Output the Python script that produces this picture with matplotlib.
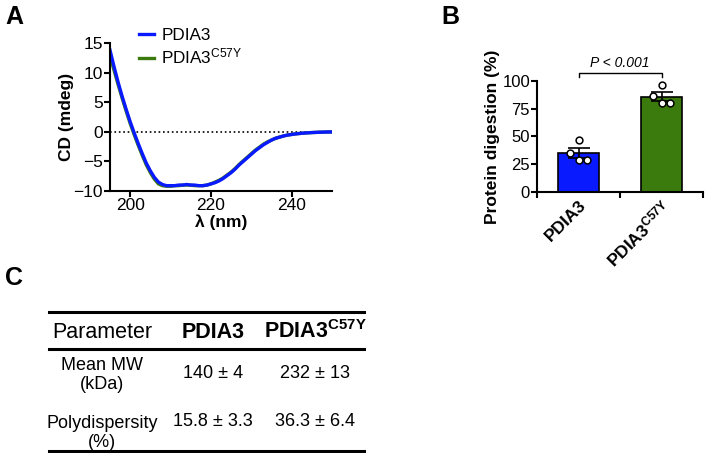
import numpy as np
import matplotlib.pyplot as plt

plt.rcParams['font.family'] = ['Liberation Sans', 'DejaVu Sans']
plt.rcParams['mathtext.fontset'] = 'custom'
plt.rcParams['mathtext.rm'] = 'Liberation Sans'
plt.rcParams['mathtext.it'] = 'Liberation Sans:italic'
plt.rcParams['mathtext.bf'] = 'Liberation Sans:bold'

# --- datos panel A: espectro CD ---
wl = np.arange(195, 251)
cd_wt = [13.8, 11.0, 8.4, 6.0, 3.8, 1.7, -0.2, -2.0, -3.7, -5.3,
         -6.6, -7.7, -8.5, -8.9, -9.1, -9.1, -9.1, -9.0, -9.0, -8.9,
         -9.0, -9.0, -9.1, -9.1, -9.0, -8.8, -8.6, -8.3, -7.9, -7.4,
         -6.9, -6.3, -5.6, -5.0, -4.4, -3.8, -3.2, -2.7, -2.2, -1.8,
         -1.4, -1.1, -0.9, -0.7, -0.55, -0.45, -0.35, -0.28, -0.22, -0.17,
         -0.13, -0.1, -0.07, -0.05, -0.03, -0.02]
cd_mut = [12.8, 10.4, 8.0, 5.7, 3.5, 1.4, -0.5, -2.3, -4.0, -5.6,
          -6.9, -8.0, -8.8, -9.1, -9.2, -9.2, -9.1, -9.1, -9.0, -9.0,
          -9.0, -9.1, -9.1, -9.1, -9.0, -8.8, -8.5, -8.2, -7.8, -7.3,
          -6.8, -6.2, -5.5, -4.9, -4.3, -3.7, -3.1, -2.6, -2.1, -1.7,
          -1.4, -1.1, -0.9, -0.7, -0.55, -0.45, -0.35, -0.28, -0.22, -0.17,
          -0.13, -0.1, -0.07, -0.05, -0.03, -0.02]

# --- datos panel B: digestion ---
grupos = ['PDIA3', r'PDIA3$^{\mathbf{C57Y}}$']
dig_mean = [34.9, 85.9]
dig_sem = [4.3, 3.9]
dig_puntos = [[47.0, 35.4, 28.5, 28.5], [96.7, 86.5, 80.2, 80.2]]
p_texto = 'P < 0.001'

# --- datos panel C: tabla ---
col_header = ['Parameter', 'PDIA3', r'PDIA3$^{\mathbf{C57Y}}$']
filas = ['Mean MW\n(kDa)', 'Polydispersity\n(%)']
val_wt = ['140 ± 4', '15.8 ± 3.3']
val_mut = ['232 ± 13', '36.3 ± 6.4']

azul = '#0a1aff'
verde = '#3b7a0c'

W, H = 709, 453
fig = plt.figure(figsize=(W / 100, H / 100), dpi=100)

def caja(x0, y0, x1, y1):
    # pixeles (arriba-izquierda) a fraccion de figura
    return [x0 / W, 1 - y1 / H, (x1 - x0) / W, (y1 - y0) / H]

#%% Panel A
ax = fig.add_axes(caja(110, 43, 332, 191))
ax.plot(wl, cd_mut, color=verde, lw=2.4, label=grupos[1].replace(r'\mathbf', r'\mathregular'))
ax.plot(wl, cd_wt, color=azul, lw=2.4, label='PDIA3')
ax.axhline(0, color='black', ls=':', lw=1.2, zorder=0)
ax.set_xlim(195, 250)
ax.set_ylim(-10, 15)
ax.set_xticks([200, 220, 240])
ax.set_yticks([-10, -5, 0, 5, 10, 15])
ax.set_xlabel('λ (nm)', fontsize=12.5, fontweight='bold', labelpad=1)
ax.set_ylabel('CD (mdeg)', fontsize=12.5, fontweight='bold', labelpad=0)
for s in ['top', 'right']:
    ax.spines[s].set_visible(False)
for s in ['left', 'bottom']:
    ax.spines[s].set_linewidth(1.5)
ax.tick_params(labelsize=12.5, width=1.5, length=4, pad=1)
h, l = ax.get_legend_handles_labels()
ax.legend(h[::-1], l[::-1], loc='upper left', bbox_to_anchor=(0.1, 1.15), frameon=False,
          fontsize=12.3, handlelength=0.9, handletextpad=0.4, labelspacing=0.25, borderaxespad=0)

#%% Panel B
bx = fig.add_axes(caja(537, 81, 703, 192))
x = np.arange(len(grupos))
bx.bar(x, dig_mean, width=0.5, color=[azul, verde], edgecolor='black', lw=1.2, zorder=1)
bx.errorbar(x, dig_mean, yerr=dig_sem, fmt='none', ecolor='black', elinewidth=1.2,
            capsize=8, capthick=1.2, zorder=2)
offs = [0.0, -0.1, 0.0, 0.1]
for i in range(len(grupos)):
    bx.scatter(x[i] + np.array(offs), dig_puntos[i], s=24, facecolor='white',
               edgecolor='black', lw=1.1, zorder=3, clip_on=False)
bx.plot([x[0], x[0], x[1], x[1]], [103.6, 107.2, 107.2, 103.6], color='black', lw=1.0, clip_on=False)
bx.text(0.5, 110, p_texto, ha='center', va='bottom', fontsize=10, style='italic')
bx.set_xlim(-0.5, 1.5)
bx.set_ylim(0, 100)
bx.set_yticks([0, 25, 50, 75, 100])
bx.set_xticks([-0.5, 0.5, 1.5])
bx.set_xticklabels([])
bx.set_xticks(x, minor=True)
bx.set_xticklabels(grupos, minor=True, rotation=45, ha='right', rotation_mode='anchor',
                   fontsize=12.5, fontweight='bold')
bx.tick_params(axis='x', which='minor', length=0, pad=4)
bx.tick_params(labelsize=12, width=1.5, length=4, pad=1)
bx.set_ylabel('Protein digestion (%)', fontsize=12.5, fontweight='bold', labelpad=2)
for s in ['top', 'right']:
    bx.spines[s].set_visible(False)
for s in ['left', 'bottom']:
    bx.spines[s].set_linewidth(1.5)

#%% Panel C: tabla
tx = fig.add_axes([0, 0, 1, 1])
tx.set_xlim(0, W)
tx.set_ylim(H, 0)
tx.axis('off')
for yl in [312, 349, 451]:
    tx.plot([49, 364], [yl, yl], color='black', lw=2.2)
xc = [102, 213, 315]
tx.text(xc[0], 332, col_header[0], ha='center', va='center', fontsize=15.5)
tx.text(xc[1], 332, col_header[1], ha='center', va='center', fontsize=15.5, fontweight='bold')
tx.text(xc[2], 332, col_header[2], ha='center', va='center', fontsize=15.5, fontweight='bold')
fila_y = [375, 433]
val_y = [374, 422]
for i in range(len(filas)):
    tx.text(xc[0], fila_y[i], filas[i], ha='center', va='center', fontsize=13, linespacing=1.2)
    tx.text(xc[1], val_y[i], val_wt[i], ha='center', va='center', fontsize=13)
    tx.text(xc[2], val_y[i], val_mut[i], ha='center', va='center', fontsize=13)

# letras de panel
for letra, (px, py) in zip('ABC', [(14, 17), (450, 17), (14, 278)]):
    fig.text(px / W, 1 - py / H, letra, fontsize=18, fontweight='bold', ha='center', va='center')

fig.savefig('out.png', dpi=100)
